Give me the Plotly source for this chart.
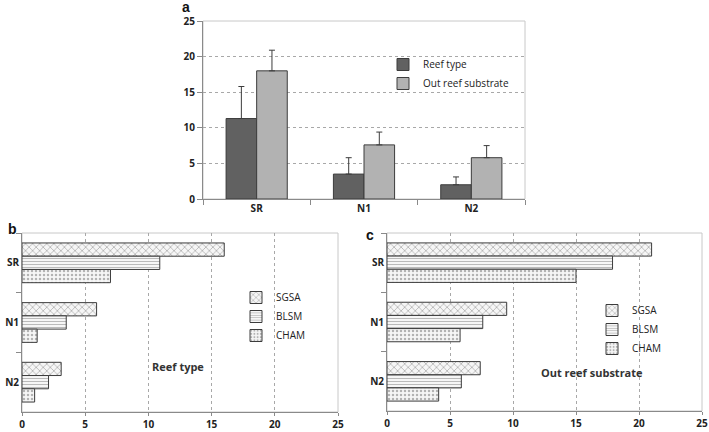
import plotly.graph_objects as go

# ---- data ----
cats = ["SR", "N1", "N2"]
reef_mean = [11.3, 3.5, 2.0]
reef_err = [4.5, 2.3, 1.1]
out_mean = [18.0, 7.6, 5.8]
out_err = [2.9, 1.8, 1.7]

habitats = ["SGSA", "BLSM", "CHAM"]
reef_by_hab = {"SGSA": [16.0, 5.9, 3.1], "BLSM": [10.9, 3.5, 2.1], "CHAM": [7.0, 1.2, 1.0]}
out_by_hab = {"SGSA": [21.0, 9.5, 7.4], "BLSM": [17.9, 7.6, 5.9], "CHAM": [15.0, 5.8, 4.1]}

W, H = 709, 432
def px(x): return x / W
def py(y): return 1 - y / H

FONT = "Open Sans"
axis_col = "#8a8a8a"
frame_col = "#c8c8c8"
grid_col = "#a8a8a8"
bar_line = "#3c3c3c"
GD = "3px,3px"

fig = go.Figure()

# ---- panel a ----
fig.add_trace(go.Bar(x=cats, y=reef_mean, name="Reef type", xaxis="x", yaxis="y",
                     marker=dict(color="#616161", line=dict(color=bar_line, width=1)),
                     error_y=dict(type="data", array=reef_err, symmetric=False, arrayminus=[0, 0, 0],
                                  color="#3c3c3c", thickness=1, width=3),
                     width=0.285, offset=-0.285, legend="legend"))
fig.add_trace(go.Bar(x=cats, y=out_mean, name="Out reef substrate", xaxis="x", yaxis="y",
                     marker=dict(color="#b2b2b2", line=dict(color=bar_line, width=1)),
                     error_y=dict(type="data", array=out_err, symmetric=False, arrayminus=[0, 0, 0],
                                  color="#3c3c3c", thickness=1, width=3),
                     width=0.285, offset=0.0, legend="legend"))

patterns = {"SGSA": "x", "BLSM": "-", "CHAM": "."}
psize = {"SGSA": 5, "BLSM": 3, "CHAM": 4}
offsets = {"SGSA": -0.333, "BLSM": -0.111, "CHAM": 0.111}

def pat(h):
    return dict(shape=patterns[h], fgcolor="#707070", bgcolor="#f6f6f6", size=psize[h], solidity=0.3)

for h in habitats:
    fig.add_trace(go.Bar(y=cats, x=reef_by_hab[h], name=h, orientation="h", xaxis="x2", yaxis="y2",
                         marker=dict(color="white", line=dict(color=bar_line, width=1), pattern=pat(h)),
                         width=0.222, offset=offsets[h], legend="legend2"))
for h in habitats:
    fig.add_trace(go.Bar(y=cats, x=out_by_hab[h], name=h, orientation="h", xaxis="x3", yaxis="y3",
                         marker=dict(color="white", line=dict(color=bar_line, width=1), pattern=pat(h)),
                         width=0.222, offset=offsets[h], legend="legend3"))

tickf = dict(family=FONT, size=10, color="#222", weight="bold")

fig.update_layout(
    width=W, height=H, margin=dict(l=0, r=0, t=0, b=0, autoexpand=False),
    paper_bgcolor="white", plot_bgcolor="white", barmode="overlay",
    font=dict(family=FONT, size=10, color="#222"),
    xaxis=dict(domain=[px(203), px(525)], anchor="y", type="category", showline=True,
               linecolor=axis_col, ticks="outside", tickson="boundaries", ticklen=5, tickcolor=axis_col,
               showgrid=False, tickfont=tickf, automargin=False),
    yaxis=dict(domain=[py(199), py(21)], anchor="x", range=[0, 25], dtick=5, showline=True,
               linecolor=axis_col, ticks="outside", ticklen=5, tickcolor=axis_col,
               showgrid=True, gridcolor=grid_col, griddash=GD, gridwidth=1,
               zeroline=False, tickfont=tickf, automargin=False),
    xaxis2=dict(domain=[px(22), px(338)], anchor="y2", range=[0, 25], dtick=5, showline=True,
                linecolor=axis_col, ticks="outside", ticklen=3, tickcolor=axis_col,
                showgrid=True, gridcolor=grid_col, griddash=GD, zeroline=False, tickfont=tickf,
                automargin=False),
    yaxis2=dict(domain=[py(412), py(233)], anchor="x2", type="category", autorange="reversed",
                showline=True, linecolor=axis_col, ticks="outside", tickson="boundaries", ticklen=5,
                tickcolor=axis_col, showgrid=False, tickfont=tickf, automargin=False),
    xaxis3=dict(domain=[px(387), px(702)], anchor="y3", range=[0, 25], dtick=5, showline=True,
                linecolor=axis_col, ticks="outside", ticklen=3, tickcolor=axis_col,
                showgrid=True, gridcolor=grid_col, griddash=GD, zeroline=False, tickfont=tickf,
                automargin=False),
    yaxis3=dict(domain=[py(411), py(233)], anchor="x3", type="category", autorange="reversed",
                showline=True, linecolor=axis_col, ticks="outside", tickson="boundaries", ticklen=5,
                tickcolor=axis_col, showgrid=False, tickfont=tickf, automargin=False),
    legend=dict(x=px(383), y=py(50), xanchor="left", yanchor="top", bgcolor="rgba(0,0,0,0)",
                font=dict(family=FONT, size=10), itemwidth=30, tracegroupgap=0),
    legend2=dict(x=px(236), y=py(283), xanchor="left", yanchor="top", bgcolor="rgba(0,0,0,0)",
                 font=dict(family=FONT, size=10), itemwidth=30),
    legend3=dict(x=px(592), y=py(296), xanchor="left", yanchor="top", bgcolor="rgba(0,0,0,0)",
                 font=dict(family=FONT, size=10), itemwidth=30),
    showlegend=True,
)

# light frames (top/right) of each plot area
for xa, ya in [("x", "y"), ("x2", "y2"), ("x3", "y3")]:
    fig.add_shape(type="rect", xref=f"{xa} domain", yref=f"{ya} domain", x0=0, x1=1, y0=0, y1=1,
                  line=dict(color=frame_col, width=1), fillcolor="rgba(0,0,0,0)", layer="below")

ann = [
    dict(text="a", x=px(186), y=py(7)),
    dict(text="b", x=px(12), y=py(229)),
    dict(text="c", x=px(370), y=py(235)),
]
for a in ann:
    fig.add_annotation(text=a["text"], x=a["x"], y=a["y"], xref="paper", yref="paper", showarrow=False,
                       xanchor="center", yanchor="middle",
                       font=dict(family="Liberation Sans", size=14, color="#111", weight="bold"))
fig.add_annotation(text="Reef type", x=px(178), y=py(366), xref="paper", yref="paper", showarrow=False,
                   xanchor="center", yanchor="middle",
                   font=dict(family=FONT, size=11, color="#333", weight="bold"))
fig.add_annotation(text="Out reef substrate", x=px(592), y=py(372), xref="paper", yref="paper",
                   showarrow=False, xanchor="center", yanchor="middle",
                   font=dict(family=FONT, size=11, color="#333", weight="bold"))

fig.write_html("out.html", config={"displayModeBar": False},
               post_script="document.body.style.margin='0';document.body.style.overflow='hidden';")
